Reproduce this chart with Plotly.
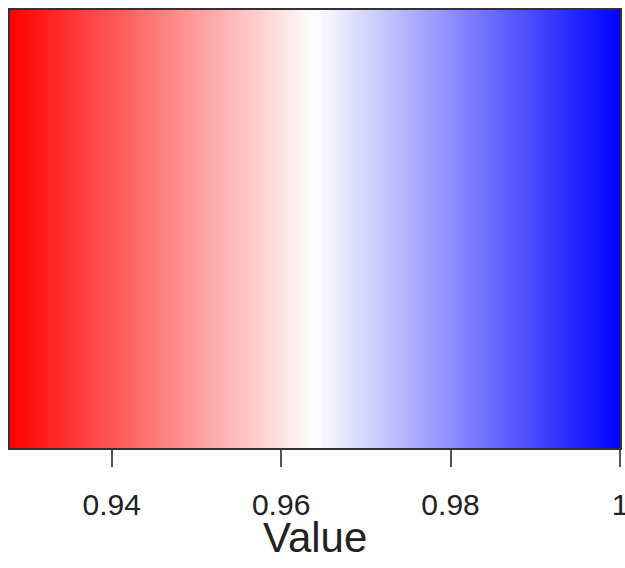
import numpy as np
import plotly.graph_objects as go

# Colour key definition
key_min = 0.928
key_max = 1.0
n_bins = 144
key_edges = np.linspace(key_min, key_max, n_bins + 1)
key_values = (key_edges[:-1] + key_edges[1:]) / 2

tick_vals = [0.94, 0.96, 0.98, 1.0]
tick_text = ["0.94", "0.96", "0.98", "1"]
axis_title = "Value"

colorscale = [[0.0, "rgb(255,0,0)"], [0.5, "rgb(255,255,255)"], [1.0, "rgb(0,0,255)"]]

fig = go.Figure(
    go.Heatmap(
        x=key_edges,
        y=[0, 1],
        z=[list(key_values)],
        colorscale=colorscale,
        zmin=key_min,
        zmax=key_max,
        showscale=False,
        hoverinfo="skip",
    )
)

fig.update_layout(
    width=625,
    height=568,
    margin=dict(l=10, r=3, t=10, b=120),
    paper_bgcolor="white",
    plot_bgcolor="white",
    font=dict(family="Liberation Sans, Arial, sans-serif", color="#222"),
    annotations=[
        dict(
            text=axis_title,
            xref="paper",
            yref="paper",
            x=0.5,
            y=-0.205,
            xanchor="center",
            yanchor="middle",
            showarrow=False,
            font=dict(size=42, color="#222"),
        )
    ],
)
fig.update_xaxes(
    range=[key_min, key_max],
    tickvals=tick_vals,
    ticktext=tick_text,
    ticks="outside",
    ticklen=17,
    tickwidth=2,
    tickcolor="#555",
    tickfont=dict(size=30, color="#222"),
    ticklabelstandoff=12,
    ticklabeloverflow="allow",
    automargin=False,
    showgrid=False,
    zeroline=False,
    showline=True,
    linecolor="#333",
    linewidth=1.5,
    mirror=True,
)
fig.update_yaxes(
    range=[0, 1],
    showticklabels=False,
    ticks="",
    showgrid=False,
    zeroline=False,
    showline=True,
    linecolor="#333",
    linewidth=1.5,
    mirror=True,
)

fig.write_html("out.html")
